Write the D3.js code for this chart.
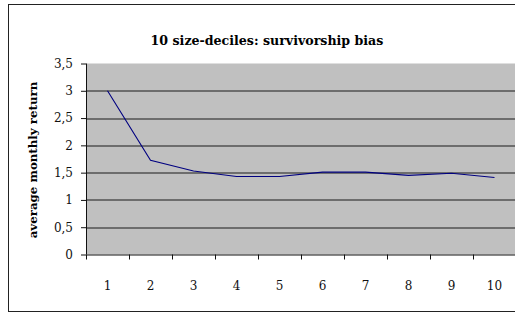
<!DOCTYPE html>
<html>
<head>
<meta charset="utf-8">
<script src="https://cdn.jsdelivr.net/npm/d3@7/dist/d3.min.js"></script>
<style>
  body { margin: 0; background: #fff; }
  svg { display: block; }
  text { font-family: "DejaVu Serif", "Liberation Serif", serif; }
  .tick text { font-size: 12px; fill: #111; }
</style>
</head>
<body>
<script>
const w = 515;
const h = 313;

// data
const deciles = ["1", "2", "3", "4", "5", "6", "7", "8", "9", "10"];
const avgReturn = [3.0, 1.725, 1.53, 1.43, 1.43, 1.51, 1.51, 1.45, 1.49, 1.41];
const yTicks = [0, 0.5, 1, 1.5, 2, 2.5, 3, 3.5];

const svg = d3.select("body").append("svg").attr("width", w).attr("height", h);

const m = { t: 63.5, r: -1, b: 58.5, l: 86 };
const gridW = w - m.l - m.r;
const gridH = h - m.t - m.b;
const serif = "'DejaVu Serif', 'Liberation Serif', serif";

// outer chart frame
svg
  .append("rect")
  .attr("x", 8.5)
  .attr("y", 4.5)
  .attr("width", w)
  .attr("height", 307)
  .attr("fill", "#fff")
  .attr("stroke", "#222");

const xScale = d3.scaleBand().domain(deciles).range([0, gridW]).padding(0);
const yScale = d3.scaleLinear().domain([0, 3.5]).range([gridH, 0]);

const g = svg.append("g").attr("transform", `translate(${m.l}, ${m.t})`);

// plot area
g.append("rect")
  .attr("width", gridW)
  .attr("height", gridH)
  .attr("fill", "#c0c0c0");

// gridlines
g.selectAll("line.grid")
  .data(yTicks.slice(1, -1))
  .enter()
  .append("line")
  .attr("class", "grid")
  .attr("x1", 0)
  .attr("x2", gridW)
  .attr("y1", (d) => Math.round(yScale(d)) + 0.5)
  .attr("y2", (d) => Math.round(yScale(d)) + 0.5)
  .attr("stroke", "#1a1a1a");

// y-axis
const yAxis = d3
  .axisLeft(yScale)
  .tickValues(yTicks)
  .tickSize(5)
  .tickPadding(8)
  .tickFormat((d) => String(d).replace(".", ","));
const yAG = g.append("g").call(yAxis).attr("font-family", serif);
yAG.selectAll("line").attr("stroke", "#111");
yAG.select(".domain").attr("stroke", "#111").attr("d", `M0.5,0V${gridH}`);

// x-axis labels
const xAxis = d3.axisBottom(xScale).tickSize(0).tickPadding(27);
const xAG = g
  .append("g")
  .attr("transform", `translate(0, ${gridH})`)
  .call(xAxis)
  .attr("font-family", serif);
xAG.select(".domain").attr("stroke", "#111");

// x tick marks at category boundaries
g.selectAll("line.xt")
  .data(deciles)
  .enter()
  .append("line")
  .attr("class", "xt")
  .attr("x1", (d) => Math.round(xScale(d)) + 0.5)
  .attr("x2", (d) => Math.round(xScale(d)) + 0.5)
  .attr("y1", gridH)
  .attr("y2", gridH + 5)
  .attr("stroke", "#111");

// series line
const line = d3
  .line()
  .x((d, i) => xScale(deciles[i]) + xScale.bandwidth() / 2)
  .y((d) => yScale(d));
g.append("path")
  .datum(avgReturn)
  .attr("d", line)
  .attr("fill", "none")
  .attr("stroke", "#000080")
  .attr("stroke-width", 1.1);

// title
svg
  .append("text")
  .attr("x", 267)
  .attr("y", 45)
  .attr("text-anchor", "middle")
  .attr("font-family", serif)
  .attr("font-weight", "bold")
  .attr("font-size", 12.6)
  .text("10 size-deciles: survivorship bias");

// y title
svg
  .append("text")
  .attr("transform", "rotate(-90)")
  .attr("x", -160)
  .attr("y", 37)
  .attr("text-anchor", "middle")
  .attr("font-family", serif)
  .attr("font-weight", "bold")
  .attr("font-size", 11.8)
  .text("average monthly return");
</script>
</body>
</html>
